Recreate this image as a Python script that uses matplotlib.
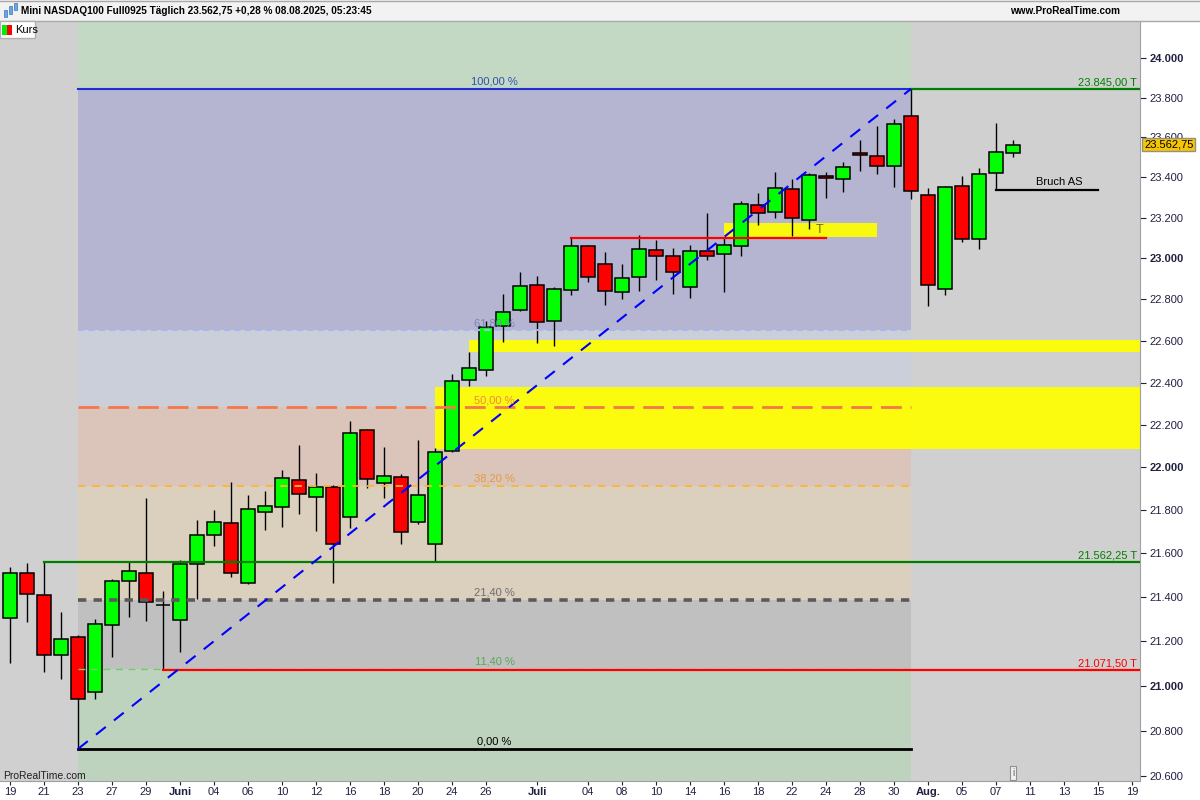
import pandas as pd
import matplotlib
matplotlib.use('Agg')
import matplotlib.pyplot as plt
from matplotlib.patches import Rectangle
from matplotlib.ticker import FixedLocator, NullLocator

plt.rcParams['font.family'] = ['Liberation Sans', 'DejaVu Sans']

# ---------------- Daten (Tageskerzen Mini NASDAQ100) ----------------
start_datum = '2025-05-19'
opens = [21306, 21511, 21411, 21139, 21220, 20973, 21274, 21475, 21511, 21365,
         21297, 21552, 21686, 21741, 21465, 21792, 21815, 21941, 21862, 21909,
         21769, 22176, 21927, 21955, 21746, 21644, 22077, 22413, 22461, 22672,
         22749, 22871, 22696, 22846, 23062, 22973, 22837, 22910, 23042, 23012,
         22861, 23037, 23022, 23062, 23264, 23229, 23343, 23189, 23408, 23393,
         23522, 23507, 23458, 23708, 23313, 22851, 23358, 23096, 23422, 23522]
highs = [21539, 21557, 21562, 21333, 21229, 21301, 21484, 21566, 21857, 21429,
         21571, 21755, 21801, 21932, 21871, 21890, 21988, 22105, 21974, 21915,
         22218, 22180, 22096, 21969, 22129, 22091, 22442, 22547, 22696, 22827,
         22934, 22915, 22861, 23100, 23067, 23032, 22973, 23116, 23091, 23052,
         23066, 23224, 23100, 23283, 23323, 23428, 23390, 23423, 23428, 23478,
         23587, 23658, 23693, 23845, 23348, 23356, 23408, 23448, 23673, 23588]
lows = [21103, 21288, 21063, 21032, 20720, 20942, 21130, 21311, 21292, 21071,
        21153, 21392, 21635, 21493, 21462, 21709, 21723, 21783, 21704, 21465,
        21718, 21904, 21857, 21644, 21737, 21565, 22070, 22385, 22432, 22595,
        22745, 22590, 22576, 22822, 22885, 22773, 22802, 22841, 22895, 22827,
        22807, 22993, 22836, 23012, 23165, 23199, 23111, 23145, 23299, 23328,
        23432, 23418, 23353, 23294, 22769, 22822, 23081, 23047, 23335, 23502]
closes = [21511, 21415, 21139, 21211, 20942, 21279, 21475, 21520, 21379, 21365,
          21552, 21686, 21746, 21511, 21806, 21820, 21951, 21876, 21909, 21644,
          22162, 21946, 21960, 21700, 21871, 22072, 22408, 22470, 22667, 22740,
          22866, 22691, 22851, 23062, 22910, 22841, 22905, 23047, 23012, 22934,
          23037, 23012, 23066, 23269, 23224, 23348, 23199, 23412, 23398, 23452,
          23512, 23458, 23668, 23333, 22871, 23353, 23096, 23417, 23527, 23562.75]
ende_achse = '2025-08-19'

# x-Achse Beschriftung
tick_daten = ['2025-05-19', '2025-05-21', '2025-05-23', '2025-05-27', '2025-05-29',
              '2025-06-02', '2025-06-04', '2025-06-06', '2025-06-10', '2025-06-12',
              '2025-06-16', '2025-06-18', '2025-06-20', '2025-06-24', '2025-06-26',
              '2025-07-01', '2025-07-04', '2025-07-08', '2025-07-10', '2025-07-14',
              '2025-07-16', '2025-07-18', '2025-07-22', '2025-07-24', '2025-07-28',
              '2025-07-30', '2025-08-01', '2025-08-05', '2025-08-07', '2025-08-11',
              '2025-08-13', '2025-08-15', '2025-08-19']
tick_texte = ['19', '21', '23', '27', '29', 'Juni', '04', '06', '10', '12', '16', '18',
              '20', '24', '26', 'Juli', '04', '08', '10', '14', '16', '18', '22', '24',
              '28', '30', 'Aug.', '05', '07', '11', '13', '15', '19']
y_ticks = list(range(20600, 24001, 200))

# Fibonacci-Retracement
fib_start, fib_ende = '2025-05-23', '2025-07-31'
fib_tief, fib_hoch = 20720, 23845
fib_stufen = [0.0, 0.114, 0.214, 0.382, 0.5, 0.618, 1.0]
fib_texte = ['0,00 %', '11,40 %', '21,40 %', '38,20 %', '50,00 %', '61,80 %', '100,00 %']
# Zonen von unten (unter 0 %) bis oben (über 100 %)
zonen_farben = ['#bdd3bd', '#bdd3bd', '#c0c0c0', '#dbd0bd', '#dbc5ba', '#cbcfd9', '#b5b5d1', '#c3d9c3']
fib_linien = [  # farbe, breite, stil, textfarbe
    ('#000000', 2.0, '-', '#000000'),
    ('#6fcf6f', 1.0, (0, (5, 4)), '#55aa55'),
    ('#5a5a5a', 2.6, (0, (2.3, 2.0)), '#6e6e6e'),
    ('#fdb531', 1.3, (0, (4, 4)), '#e39a3c'),
    ('#f4784a', 2.0, (0, (7.5, 3.2)), '#f08a3a'),
    ('#a8b8ee', 1.5, (0, (3, 2)), '#7585b5'),
    ('#1f2fd0', 1.5, '-', '#3050b0'),
]

# horizontale Linien bis zum rechten Rand
h_preise = [23845.00, 21562.25, 21071.50]
h_start = ['2025-07-31', '2025-05-21', '2025-05-30']
h_farben = ['#008000', '#008000', '#ff0000']
h_texte = ['23.845,00 T', '21.562,25 T', '21.071,50 T']

# gelbe Zonen: start, ende (None = rechter Rand), unten, oben
gelb_start = ['2025-07-16', '2025-06-25', '2025-06-23']
gelb_ende = ['2025-07-29', None, None]
gelb_unten = [23105, 22548, 22087]
gelb_oben = [23175, 22605, 22380]

widerstand = 23100
widerstand_von, widerstand_bis = '2025-07-03', '2025-07-24'
bruch_as = 23335
bruch_von, bruch_bis = '2025-08-07', '2025-08-15'
letzter_kurs = 23562.75

# ---------------- Zeichnen ----------------
tage = pd.bdate_range(start_datum, ende_achse)
def pos(d):
    return tage.get_loc(pd.Timestamp(d))

W, H = 1200, 800
fig = plt.figure(figsize=(12, 8), dpi=100)
fig.patch.set_facecolor('white')
ax = fig.add_axes([0, 19 / H, 1140 / W, 760 / H])
ax.set_facecolor('#d0d0d0')
ax.set_yscale('log')
x_min, x_max = -10 / 17, 1130 / 17
y_min, y_max = 20579, 24192
ax.set_xlim(x_min, x_max)
ax.set_ylim(y_min, y_max)

# Fibonacci Zonen
f0, f1 = pos(fib_start), pos(fib_ende)
fib_preise = [fib_tief + s * (fib_hoch - fib_tief) for s in fib_stufen]
grenzen = [y_min * 0.99] + fib_preise + [y_max * 1.01]
for i, farbe in enumerate(zonen_farben):
    ax.fill_between([f0, f1], grenzen[i], grenzen[i + 1], color=farbe, lw=0, zorder=0)

# gelbe Zonen
for s, e, u, o in zip(gelb_start, gelb_ende, gelb_unten, gelb_oben):
    xe = x_max if e is None else pos(e)
    ax.fill_between([pos(s), xe], u, o, color='#ffff00', alpha=0.93, lw=0, zorder=1)

# Kerzen
xs = list(range(len(opens)))
ax.vlines(xs, lows, highs, color='black', lw=1, zorder=3)
unten = [min(o, c) for o, c in zip(opens, closes)]
hoehe = [abs(c - o) for o, c in zip(opens, closes)]
farben = ['#00ff00' if c > o else ('#ff0000' if c < o else 'black') for o, c in zip(opens, closes)]
ax.bar(xs, hoehe, bottom=unten, width=0.84, color=farben, edgecolor='black', linewidth=1.1, zorder=4)

# Fibonacci Linien + Texte
mitte = (f0 + f1) / 2
for p, (farbe, lw, ls, tfarbe), txt in zip(fib_preise, fib_linien, fib_texte):
    ax.plot([f0, f1], [p, p], color=farbe, lw=lw, ls=ls, zorder=5)
    ax.annotate(txt, xy=(mitte, p), xytext=(0, 1.5), textcoords='offset points',
                ha='center', va='bottom', fontsize=8, color=tfarbe, zorder=7)

# Trendlinie
ax.plot([f0, f1], [fib_tief, fib_hoch], color='#0000ff', lw=1.5, ls=(0, (6, 5)), zorder=6)

# horizontale Linien rechts
for p, s, farbe, txt in zip(h_preise, h_start, h_farben, h_texte):
    ax.plot([pos(s), x_max], [p, p], color=farbe, lw=1.6, zorder=5)
    ax.annotate(txt, xy=(x_max, p), xytext=(-3, 1), textcoords='offset pixels',
                ha='right', va='bottom', fontsize=8, color=farbe, zorder=7)

ax.plot([pos(widerstand_von), pos(widerstand_bis)], [widerstand, widerstand], color='#ff0000', lw=1.6, zorder=5)
ax.annotate('T', xy=(pos(widerstand_bis), 23140), xytext=(-6, 0), textcoords='offset pixels',
            ha='center', va='center', fontsize=9, color='#7a6400', zorder=7)

ax.plot([pos(bruch_von), pos(bruch_bis)], [bruch_as, bruch_as], color='black', lw=1.6, zorder=5)
ax.annotate('Bruch AS', xy=((pos(bruch_von) + pos(bruch_bis)) / 2 + 0.7, bruch_as), xytext=(0, 3),
            textcoords='offset pixels', ha='center', va='bottom', fontsize=8, color='black', zorder=7)

# Achsen
for s in ['left', 'top']:
    ax.spines[s].set_visible(False)
for s in ['right', 'bottom']:
    ax.spines[s].set_color('#a0a0a0')
ax.yaxis.tick_right()
ax.yaxis.set_major_locator(FixedLocator(y_ticks))
ax.yaxis.set_minor_locator(NullLocator())
ax.set_yticklabels([f'{v:,}'.replace(',', '.') for v in y_ticks])
for lab, v in zip(ax.get_yticklabels(), y_ticks):
    if v % 1000 == 0:
        lab.set_fontweight('bold')
ax.tick_params(axis='y', direction='out', length=4, pad=3, labelsize=8, colors='#202040')

ax.xaxis.set_major_locator(FixedLocator([pos(d) for d in tick_daten]))
ax.xaxis.set_minor_locator(NullLocator())
ax.set_xticklabels(tick_texte)
for lab in ax.get_xticklabels():
    if not lab.get_text()[0].isdigit():
        lab.set_fontweight('bold')
        lab.set_color('#101010')
ax.tick_params(axis='x', direction='out', length=3, pad=1, labelsize=8, colors='#202040')

# aktueller Kurs
ax.annotate(f'{letzter_kurs:,.2f}'.replace(',', 'X').replace('.', ',').replace('X', '.'),
            xy=(1, letzter_kurs), xycoords=('axes fraction', 'data'), xytext=(4, 0),
            textcoords='offset pixels', ha='left', va='center', fontsize=8, color='black',
            annotation_clip=False, zorder=10,
            bbox=dict(boxstyle='square,pad=0.15', fc='#f7c600', ec='#909090', lw=1))

# ---------------- Rahmen / Kopfzeile ----------------
def fx(px):
    return px / W
def fy(py):
    return 1 - py / H

fig.patches.append(Rectangle((0, fy(21)), 1, 21 / H, transform=fig.transFigure,
                             facecolor='#f2f2f2', edgecolor='none', zorder=0))
fig.add_artist(plt.Line2D([0, 1], [fy(21), fy(21)], color='#a8a8a8', lw=1))
fig.add_artist(plt.Line2D([0, 1], [fy(0.5), fy(0.5)], color='#a8a8a8', lw=1))
for (x0, y0, hh) in [(4, 10, 7), (9, 6, 8), (14, 3, 7)]:
    fig.patches.append(Rectangle((fx(x0), fy(y0 + hh)), 3 / W, hh / H, transform=fig.transFigure,
                                 facecolor='#6aa6e0', edgecolor='#3a76c0', lw=0.5))
fig.text(fx(21), fy(11), 'Mini NASDAQ100 Full0925 Täglich 23.562,75 +0,28 % 08.08.2025, 05:23:45',
         fontsize=7.2, fontweight='bold', va='center', ha='left', color='black')
fig.text(fx(1120), fy(11), 'www.ProRealTime.com', fontsize=7.2, fontweight='bold',
         va='center', ha='right', color='black')

# Legende "Kurs"
fig.patches.append(Rectangle((0, fy(38)), 35 / W, 17 / H, transform=fig.transFigure,
                             facecolor='white', edgecolor='#b0b0b0', lw=1, zorder=5))
fig.patches.append(Rectangle((fx(2), fy(35)), 5 / W, 10 / H, transform=fig.transFigure,
                             facecolor='#00ee00', edgecolor='none', zorder=6))
fig.patches.append(Rectangle((fx(7), fy(35)), 5 / W, 10 / H, transform=fig.transFigure,
                             facecolor='#ff0000', edgecolor='none', zorder=6))
fig.text(fx(15), fy(30), 'Kurs', fontsize=8, va='center', ha='left', color='black', zorder=7)

fig.text(fx(3), fy(776), 'ProRealTime.com', fontsize=7.5, va='center', ha='left', color='#202020')
fig.text(fx(1013), fy(773), 'i', fontsize=7, va='center', ha='center', color='#606060',
         bbox=dict(boxstyle='square,pad=0.25', fc='#f0f0f0', ec='#909090', lw=0.8))

fig.savefig('out.png', dpi=100)
